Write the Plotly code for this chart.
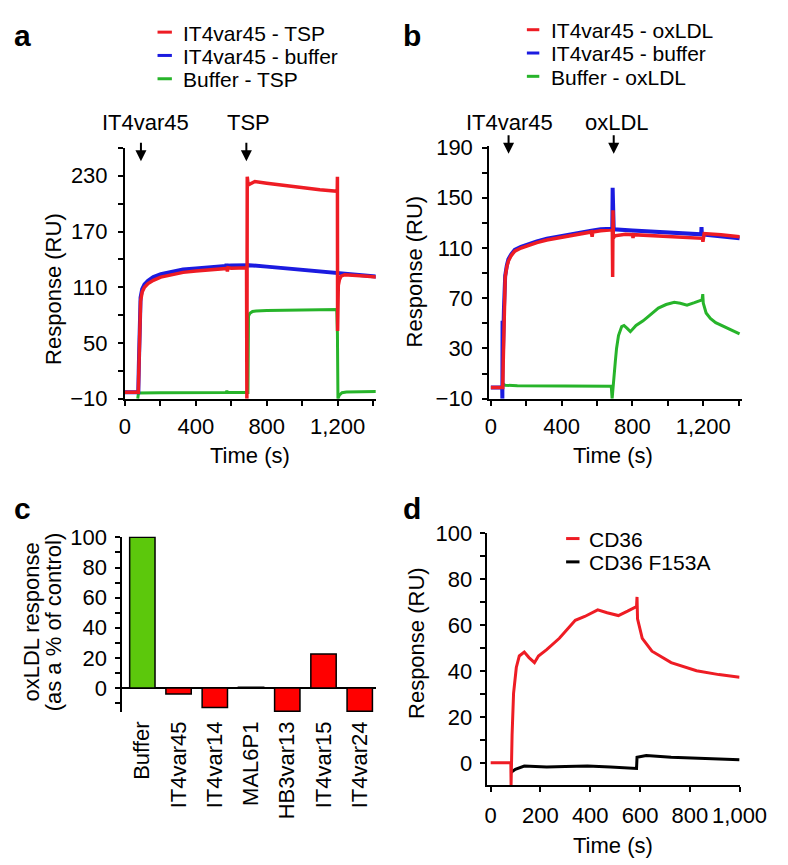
import plotly.graph_objects as go

# ---- data ----
# panel a : IT4var45 / TSP sensorgram
a_red_t = [0, 70, 75, 78, 82, 88, 97, 110, 130, 160, 202, 260, 328, 400, 472, 540, 575, 578, 581, 600, 640,
           680, 686, 688, 690, 695, 715, 733, 800, 900, 1000, 1100, 1195, 1198, 1199, 1200, 1204, 1210, 1220,
           1240, 1300, 1350, 1418]
a_red_y = [-3, -3, -3, 20, 70, 95, 105, 110, 113.9, 117.5, 120.9, 123.5, 126, 127.5, 128.9, 129.8, 130.2, 127,
           131, 130.5, 130.8, 131, 131, -10, 229, 220, 222.5, 223.8, 222, 219.5, 217, 215, 213.3, 213, 229, 63,
           112, 118, 122, 123.5, 123, 122, 120.9]
a_blue_t = [0, 70, 75, 78, 82, 88, 97, 110, 130, 160, 202, 260, 328, 400, 472, 540, 570, 573, 576, 600, 640,
            680, 700, 800, 900, 1000, 1100, 1200, 1300, 1418]
a_blue_y = [-3, -3, -3, 25, 75, 99, 108, 113, 117, 121, 124, 126.5, 129, 130.3, 131.6, 132.5, 133, 135, 133.2,
            133.4, 133.6, 133.8, 133.8, 132.2, 130.5, 128.8, 127, 125.2, 123.6, 121.6]
a_green_t = [72, 73, 76, 200, 400, 570, 575, 580, 680, 694, 697, 705, 720, 740, 800, 1000, 1195, 1199, 1202,
             1210, 1225, 1250, 1300, 1418]
a_green_y = [-10, -4, -3.8, -3.6, -3.4, -3.3, -1.5, -3.3, -3.2, -3.2, 79, 82, 84, 84.5, 85, 85.5, 86, 60, -10,
             -6, -3.5, -2.8, -2.4, -2.2]

# panel b : IT4var45 / oxLDL sensorgram
b_red_t = [0, 67, 70, 74, 81, 90, 99, 115, 135, 170, 207, 260, 316, 380, 441, 500, 568, 572, 576, 620, 676,
           686, 688, 690, 692, 700, 760, 800, 803, 806, 900, 1000, 1100, 1195, 1198, 1200, 1205, 1300, 1405]
b_red_y = [-1, -1, 20, 60, 86.7, 95, 99.6, 104, 107.4, 110, 112, 114.3, 116.4, 118.2, 119.7, 121.2, 122.8, 119,
           122.8, 123.8, 124.6, 124.6, 87, 140, 118, 119.7, 121, 120.6, 118, 120.6, 119.8, 119, 118.3, 117.7,
           115, 121, 121.5, 120.5, 119]
b_blue_t = [0, 64, 65, 66, 68, 74, 81, 90, 99, 115, 135, 170, 207, 260, 316, 380, 441, 500, 568, 620, 676, 686,
            688, 690, 694, 800, 900, 1000, 1100, 1188, 1190, 1192, 1198, 1300, 1405]
b_blue_y = [-1, -1, -10, 52, 25, 62, 88, 96, 101, 105, 108.5, 111, 113, 115.3, 117.4, 119.2, 120.7, 122.2,
            123.8, 125, 125.4, 125.4, 158, 125, 124.9, 124, 123.1, 122.2, 121.4, 120.9, 126.7, 120.8, 120.8,
            119.2, 117.7]
b_green_t = [68, 80, 150, 300, 500, 680, 685, 695, 703, 710, 721, 739, 752, 770, 788, 820, 860, 892, 946, 990,
             1036, 1070, 1108, 1150, 1193, 1197, 1200, 1216, 1240, 1270, 1300, 1343, 1405]
b_green_y = [2, 0.8, 0.3, 0.1, 0, 0, -10, 10, 19.6, 30, 40.3, 47.5, 48.3, 46, 43.4, 48.3, 52, 55.8, 62.2, 65,
             66.8, 66, 64.5, 66.5, 68.7, 73.3, 66, 58.3, 54, 50.6, 48.5, 45.5, 41.6]

# panel c : oxLDL response (% of control)
c_labels = ["Buffer", "IT4var45", "IT4var14", "MAL6P1", "HB3var13", "IT4var15", "IT4var24"]
c_values = [100, -4, -13, 0.5, -15.5, 22.5, -15.5]

# panel d : CD36 vs CD36 F153A
d_red_t = [0, 81, 82, 84, 86, 92, 103, 115, 135, 154, 176, 192, 225, 276, 340, 378, 430, 468, 513, 550, 586,
           588, 590, 609, 648, 725, 827, 917, 1000]
d_red_y = [0, 0, -9.6, 5, 12, 30.3, 41.5, 46.5, 48.2, 45.8, 43.6, 46.5, 49.3, 54.2, 62, 63.7, 66.6, 65.3, 64.1,
           66, 68, 72.2, 62.7, 54.2, 48.6, 43.6, 40.1, 38.4, 37.3]
d_black_t = [81, 99, 135, 225, 300, 389, 481, 583, 586, 588, 625, 725, 850, 1000]
d_black_y = [-4.2, -2.8, -1.4, -1.8, -1.6, -1.4, -1.8, -2.4, -2.4, 2.4, 3.2, 2.4, 1.8, 1.4]

RED = "#ee1c24"
BLUE = "#1b1be0"
GREEN = "#27b42a"
BAR_GREEN = "#5cc80c"
FONT = "Liberation Sans, Arial, sans-serif"
W, H = 788, 865


def px(x):
    return x / W


def py(y):
    return 1 - y / H


fig = go.Figure()

# panel a
fig.add_trace(go.Scatter(x=a_green_t, y=a_green_y, mode="lines", line=dict(color=GREEN, width=3),
                         name="Buffer - TSP", xaxis="x", yaxis="y"))
fig.add_trace(go.Scatter(x=a_blue_t, y=a_blue_y, mode="lines", line=dict(color=BLUE, width=4),
                         name="IT4var45 - buffer", xaxis="x", yaxis="y"))
fig.add_trace(go.Scatter(x=a_red_t, y=a_red_y, mode="lines", line=dict(color=RED, width=3.5),
                         name="IT4var45 - TSP", xaxis="x", yaxis="y"))
# panel b
fig.add_trace(go.Scatter(x=b_green_t, y=b_green_y, mode="lines", line=dict(color=GREEN, width=3),
                         name="Buffer - oxLDL", xaxis="x2", yaxis="y2"))
fig.add_trace(go.Scatter(x=b_blue_t, y=b_blue_y, mode="lines", line=dict(color=BLUE, width=4),
                         name="IT4var45 - buffer", xaxis="x2", yaxis="y2"))
fig.add_trace(go.Scatter(x=b_red_t, y=b_red_y, mode="lines", line=dict(color=RED, width=3.5),
                         name="IT4var45 - oxLDL", xaxis="x2", yaxis="y2"))
# panel c
fig.add_trace(go.Bar(x=c_labels, y=c_values, width=0.7,
                     marker=dict(color=[BAR_GREEN] + ["#ff0000"] * 6, line=dict(color="black", width=1.5)),
                     xaxis="x3", yaxis="y3"))
# panel d
fig.add_trace(go.Scatter(x=d_black_t, y=d_black_y, mode="lines", line=dict(color="black", width=3),
                         name="CD36 F153A", xaxis="x4", yaxis="y4"))
fig.add_trace(go.Scatter(x=d_red_t, y=d_red_y, mode="lines", line=dict(color=RED, width=3),
                         name="CD36", xaxis="x4", yaxis="y4"))


def axis(**kw):
    base = dict(showline=True, linecolor="black", linewidth=2, ticks="outside", ticklen=5, tickwidth=1.5,
                tickcolor="black", showgrid=False, zeroline=False, tickfont=dict(size=22, color="black"),
                fixedrange=True)
    base.update(kw)
    return base


def minor(d, t0=0):
    return dict(ticks="outside", ticklen=5, tickwidth=1.5, tickcolor="black", dtick=d, tick0=t0, showgrid=False)


fig.update_layout(
    width=W, height=H, margin=dict(l=0, r=0, t=0, b=0),
    paper_bgcolor="white", plot_bgcolor="white", showlegend=False,
    font=dict(family=FONT, size=22, color="black"),
    xaxis=axis(domain=[px(116), px(378)], range=[0, 1415], dtick=400, tick0=0, tickformat=",",
               minor=minor(200), ticklabelstandoff=2, anchor="y"),
    yaxis=axis(domain=[py(390), py(131.7)], range=[-10, 260], dtick=60, tick0=-10, minor=minor(30, -10),
               ticklabelstandoff=6, anchor="x"),
    xaxis2=axis(domain=[px(496.7), px(760.7)], range=[-9, 1418], dtick=400, tick0=0, tickformat=",",
                minor=minor(200), ticklabelstandoff=2, anchor="y2"),
    yaxis2=axis(domain=[py(390), py(130)], range=[-10, 191], dtick=40, tick0=-10, minor=minor(20, -10),
                ticklabelstandoff=5, anchor="x2"),
    xaxis3=axis(domain=[px(113.3), px(378)], range=[-0.55, 6.44], showline=False, ticks="", tickangle=-90,
                ticklabelstandoff=4, anchor="y3"),
    yaxis3=axis(domain=[py(712.7), py(532)], range=[-16, 100.5], dtick=20, tick0=0, minor=minor(10),
                zeroline=True, zerolinecolor="black", zerolinewidth=2, ticklabelstandoff=4, anchor="x3"),
    xaxis4=axis(domain=[px(494), px(758.3)], range=[-16, 1000], dtick=200, tick0=0, tickformat=",",
                ticklabelstandoff=5, anchor="y4"),
    yaxis4=axis(domain=[py(787.7), py(528.3)], range=[-9.6, 100], dtick=20, tick0=0, minor=minor(10),
                ticklabelstandoff=3, anchor="x4"),
)

ann = []


def text(x, y, s, size=22, angle=0, bold=False, xanchor="center"):
    ann.append(dict(x=px(x), y=py(y), xref="paper", yref="paper", text=f"<b>{s}</b>" if bold else s,
                    showarrow=False, textangle=angle, xanchor=xanchor, yanchor="middle", borderpad=0,
                    font=dict(size=size, color="black", family=FONT)))


# panel letters
text(9, 16, "a", size=30, bold=True)
text(416, 16, "b", size=30, bold=True)
text(9, 503, "c", size=30, bold=True)
text(416, 503, "d", size=30, bold=True)

# axis titles
text(247, 448, "Time (s)")
text(626, 448, "Time (s)")
text(626, 850, "Time (s)")
text(41.7, 277, "Response (RU)", angle=-90)
text(419, 259, "Response (RU)", angle=-90)
text(420.7, 642, "Response (RU)", angle=-90)
text(18.3, 620, "oxLDL response", angle=-90)
text(41, 620, "(as a % of control)", angle=-90)

# injection markers
text(137, 106, "IT4var45")
text(245, 106, "TSP")
text(518, 106, "IT4var45")
text(630, 106, "oxLDL")
for xr, yr, xv, yv in [("x", "y", 90, 245.5), ("x", "y", 685, 245.5), ("x2", "y2", 100, 185), ("x2", "y2", 694, 185)]:
    ann.append(dict(x=xv, y=yv, xref=xr, yref=yr, text="", showarrow=True, ax=0, ay=-20,
                    arrowhead=2, arrowsize=1.1, arrowwidth=2, arrowcolor="black"))

# legends (drawn as swatch + label rows)
shapes = []
legend_rows = [
    (150, 165, 176, 12.5, RED, "IT4var45 - TSP"),
    (150, 165, 176, 36.5, BLUE, "IT4var45 - buffer"),
    (150, 165, 176, 60.5, GREEN, "Buffer - TSP"),
    (536, 549, 560, 10, RED, "IT4var45 - oxLDL"),
    (536, 549, 560, 34, BLUE, "IT4var45 - buffer"),
    (536, 549, 560, 58, GREEN, "Buffer - oxLDL"),
    (577, 591, 600, 534, RED, "CD36"),
    (577, 591, 600, 558, "black", "CD36 F153A"),
]
for x0, x1, xt, yl, col, lab in legend_rows:
    shapes.append(dict(type="line", xref="paper", yref="paper", x0=px(x0), x1=px(x1), y0=py(yl), y1=py(yl),
                       line=dict(color=col, width=3)))
    text(xt, yl + 1, lab, size=21, xanchor="left")

fig.update_layout(annotations=ann, shapes=shapes)

fig.write_html("out.html")
